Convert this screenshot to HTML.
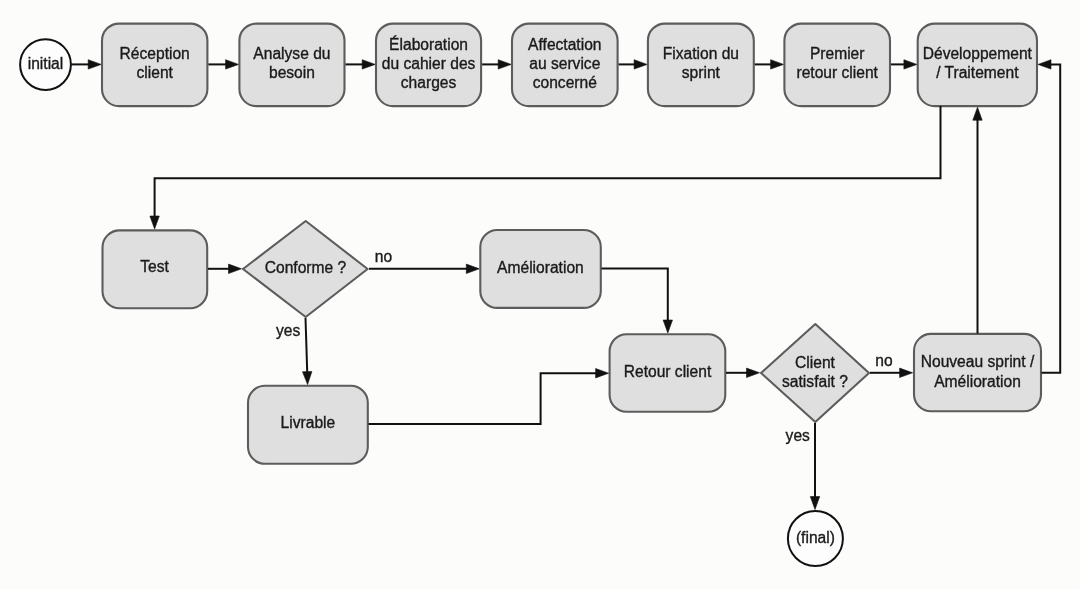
<!DOCTYPE html>
<html><head><meta charset="utf-8"><style>
html,body{margin:0;padding:0;background:#fcfcfa;}
body{width:1080px;height:589px;overflow:hidden;}
svg{display:block;will-change:transform;}
text{font-family:"Liberation Sans", sans-serif;fill:#1a1a1a;stroke:#1a1a1a;stroke-width:0.35px;}
</style></head><body>
<svg width="1080" height="589" viewBox="0 0 1080 589">
<rect x="0" y="0" width="1080" height="589" fill="#fcfcfa"/>
<circle cx="45.5" cy="64.6" r="25.4" fill="#fdfdfd" stroke="#111" stroke-width="2"/>
<text x="45.5" y="69.0" text-anchor="middle" font-size="15.6">initial</text>
<polyline points="71.30,64.40 89.20,64.40" fill="none" stroke="#111" stroke-width="2.0"/>
<polygon points="101.20,64.40 88.20,59.70 88.20,69.10" fill="#111" stroke="#111" stroke-width="0.6" stroke-linejoin="miter"/>
<rect x="102.0" y="23.6" width="105.40" height="82.50" rx="17" ry="17" fill="#dfdfdf" stroke="#5c5c5c" stroke-width="2.1"/>
<text x="154.7" y="59.3" text-anchor="middle" font-size="15.6">Réception</text>
<text x="154.7" y="78.3" text-anchor="middle" font-size="15.6">client</text>
<polyline points="208.40,64.40 226.60,64.40" fill="none" stroke="#111" stroke-width="2.0"/>
<polygon points="238.60,64.40 225.60,59.70 225.60,69.10" fill="#111" stroke="#111" stroke-width="0.6" stroke-linejoin="miter"/>
<rect x="239.4" y="23.6" width="105.10" height="82.50" rx="17" ry="17" fill="#dfdfdf" stroke="#5c5c5c" stroke-width="2.1"/>
<text x="291.95" y="59.3" text-anchor="middle" font-size="15.6">Analyse du</text>
<text x="291.95" y="78.3" text-anchor="middle" font-size="15.6">besoin</text>
<polyline points="345.50,64.40 363.20,64.40" fill="none" stroke="#111" stroke-width="2.0"/>
<polygon points="375.20,64.40 362.20,59.70 362.20,69.10" fill="#111" stroke="#111" stroke-width="0.6" stroke-linejoin="miter"/>
<rect x="376.0" y="23.6" width="105.10" height="82.50" rx="17" ry="17" fill="#dfdfdf" stroke="#5c5c5c" stroke-width="2.1"/>
<text x="428.55" y="50" text-anchor="middle" font-size="15.6">Élaboration</text>
<text x="428.55" y="69" text-anchor="middle" font-size="15.6">du cahier des</text>
<text x="428.55" y="88" text-anchor="middle" font-size="15.6">charges</text>
<polyline points="482.10,64.40 499.20,64.40" fill="none" stroke="#111" stroke-width="2.0"/>
<polygon points="511.20,64.40 498.20,59.70 498.20,69.10" fill="#111" stroke="#111" stroke-width="0.6" stroke-linejoin="miter"/>
<rect x="512.0" y="23.6" width="105.60" height="82.50" rx="17" ry="17" fill="#dfdfdf" stroke="#5c5c5c" stroke-width="2.1"/>
<text x="564.8" y="50" text-anchor="middle" font-size="15.6">Affectation</text>
<text x="564.8" y="69" text-anchor="middle" font-size="15.6">au service</text>
<text x="564.8" y="88" text-anchor="middle" font-size="15.6">concerné</text>
<polyline points="618.60,64.40 635.10,64.40" fill="none" stroke="#111" stroke-width="2.0"/>
<polygon points="647.10,64.40 634.10,59.70 634.10,69.10" fill="#111" stroke="#111" stroke-width="0.6" stroke-linejoin="miter"/>
<rect x="647.9" y="23.6" width="105.90" height="82.50" rx="17" ry="17" fill="#dfdfdf" stroke="#5c5c5c" stroke-width="2.1"/>
<text x="700.8499999999999" y="59.3" text-anchor="middle" font-size="15.6">Fixation du</text>
<text x="700.8499999999999" y="78.3" text-anchor="middle" font-size="15.6">sprint</text>
<polyline points="754.80,64.40 771.60,64.40" fill="none" stroke="#111" stroke-width="2.0"/>
<polygon points="783.60,64.40 770.60,59.70 770.60,69.10" fill="#111" stroke="#111" stroke-width="0.6" stroke-linejoin="miter"/>
<rect x="784.4" y="23.6" width="105.60" height="82.50" rx="17" ry="17" fill="#dfdfdf" stroke="#5c5c5c" stroke-width="2.1"/>
<text x="837.2" y="59.3" text-anchor="middle" font-size="15.6">Premier</text>
<text x="837.2" y="78.3" text-anchor="middle" font-size="15.6">retour client</text>
<polyline points="891.00,64.40 904.90,64.40" fill="none" stroke="#111" stroke-width="2.0"/>
<polygon points="916.90,64.40 903.90,59.70 903.90,69.10" fill="#111" stroke="#111" stroke-width="0.6" stroke-linejoin="miter"/>
<rect x="917.7" y="23.6" width="119.30" height="82.50" rx="17" ry="17" fill="#dfdfdf" stroke="#5c5c5c" stroke-width="2.1"/>
<text x="977.35" y="59.3" text-anchor="middle" font-size="15.6">Développement</text>
<text x="977.35" y="78.3" text-anchor="middle" font-size="15.6">/ Traitement</text>
<polyline points="940.50,106.10 940.50,178.20 154.60,178.20 154.60,217.00" fill="none" stroke="#111" stroke-width="2.0"/>
<polygon points="154.60,229.00 149.90,216.00 159.30,216.00" fill="#111" stroke="#111" stroke-width="0.6" stroke-linejoin="miter"/>
<rect x="102.5" y="230.4" width="104.70" height="77.90" rx="17" ry="17" fill="#dfdfdf" stroke="#5c5c5c" stroke-width="2.1"/>
<text x="154.6" y="272.0" text-anchor="middle" font-size="15.6">Test</text>
<polyline points="208.00,268.80 229.50,268.80" fill="none" stroke="#111" stroke-width="2.0"/>
<polygon points="241.50,268.80 228.50,264.10 228.50,273.50" fill="#111" stroke="#111" stroke-width="0.6" stroke-linejoin="miter"/>
<polygon points="243,269 305.7,221 367.6,269 305.7,317" fill="#dfdfdf" stroke="#5c5c5c" stroke-width="2.1" stroke-linejoin="round"/>
<text x="305.5" y="273.3" text-anchor="middle" font-size="15.6">Conforme ?</text>
<polyline points="369.00,268.80 467.30,268.80" fill="none" stroke="#111" stroke-width="2.0"/>
<polygon points="479.30,268.80 466.30,264.10 466.30,273.50" fill="#111" stroke="#111" stroke-width="0.6" stroke-linejoin="miter"/>
<text x="374.8" y="262.2" text-anchor="start" font-size="15.6">no</text>
<rect x="480.3" y="230" width="120.50" height="77.90" rx="17" ry="17" fill="#dfdfdf" stroke="#5c5c5c" stroke-width="2.1"/>
<text x="540.4" y="273.1" text-anchor="middle" font-size="15.6">Amélioration</text>
<polyline points="601.50,268.60 667.80,268.60 667.80,321.00" fill="none" stroke="#111" stroke-width="2.0"/>
<polygon points="667.80,333.00 663.10,320.00 672.50,320.00" fill="#111" stroke="#111" stroke-width="0.6" stroke-linejoin="miter"/>
<rect x="609.6" y="334.2" width="115.70" height="77.60" rx="17" ry="17" fill="#dfdfdf" stroke="#5c5c5c" stroke-width="2.1"/>
<text x="667.5" y="376.9" text-anchor="middle" font-size="15.6">Retour client</text>
<polyline points="726.00,372.80 747.50,372.80" fill="none" stroke="#111" stroke-width="2.0"/>
<polygon points="759.50,372.80 746.50,368.10 746.50,377.50" fill="#111" stroke="#111" stroke-width="0.6" stroke-linejoin="miter"/>
<polygon points="761,373 815.3,324 869,373 815.3,422" fill="#dfdfdf" stroke="#5c5c5c" stroke-width="2.1" stroke-linejoin="round"/>
<text x="815" y="367.5" text-anchor="middle" font-size="15.6">Client</text>
<text x="815" y="386.5" text-anchor="middle" font-size="15.6">satisfait ?</text>
<polyline points="870.00,372.80 900.60,372.80" fill="none" stroke="#111" stroke-width="2.0"/>
<polygon points="912.60,372.80 899.60,368.10 899.60,377.50" fill="#111" stroke="#111" stroke-width="0.6" stroke-linejoin="miter"/>
<text x="875.3" y="366" text-anchor="start" font-size="15.6">no</text>
<rect x="914.0" y="333.9" width="127.00" height="77.40" rx="17" ry="17" fill="#dfdfdf" stroke="#5c5c5c" stroke-width="2.1"/>
<text x="977.5" y="367" text-anchor="middle" font-size="15.6">Nouveau sprint /</text>
<text x="977.5" y="386.5" text-anchor="middle" font-size="15.6">Amélioration</text>
<polyline points="977.50,333.50 977.50,119.20" fill="none" stroke="#111" stroke-width="2.0"/>
<polygon points="977.50,107.20 972.80,120.20 982.20,120.20" fill="#111" stroke="#111" stroke-width="0.6" stroke-linejoin="miter"/>
<polyline points="1041.50,372.80 1060.20,372.80 1060.20,64.40 1050.00,64.40" fill="none" stroke="#111" stroke-width="2.0"/>
<polygon points="1038.00,64.40 1051.00,59.70 1051.00,69.10" fill="#111" stroke="#111" stroke-width="0.6" stroke-linejoin="miter"/>
<polyline points="305.50,318.00 307.22,372.61" fill="none" stroke="#111" stroke-width="2.0"/>
<polygon points="307.60,384.60 302.49,371.75 311.89,371.46" fill="#111" stroke="#111" stroke-width="0.6"/>
<text x="276" y="335.5" text-anchor="start" font-size="15.6">yes</text>
<rect x="248.0" y="385.7" width="119.80" height="78.10" rx="17" ry="17" fill="#dfdfdf" stroke="#5c5c5c" stroke-width="2.1"/>
<text x="307.9" y="427.9" text-anchor="middle" font-size="15.6">Livrable</text>
<polyline points="368.50,424.00 540.60,424.00 540.60,373.20 596.60,373.20" fill="none" stroke="#111" stroke-width="2.0"/>
<polygon points="608.60,373.20 595.60,368.50 595.60,377.90" fill="#111" stroke="#111" stroke-width="0.6" stroke-linejoin="miter"/>
<polyline points="815.00,423.00 815.00,497.50" fill="none" stroke="#111" stroke-width="2.0"/>
<polygon points="815.00,509.50 810.30,496.50 819.70,496.50" fill="#111" stroke="#111" stroke-width="0.6" stroke-linejoin="miter"/>
<text x="785.6" y="440.5" text-anchor="start" font-size="15.6">yes</text>
<circle cx="815.4" cy="538.5" r="27.5" fill="#fdfdfd" stroke="#111" stroke-width="2"/>
<text x="815.4" y="542.8" text-anchor="middle" font-size="15.6">(final)</text>
</svg>
</body></html>
